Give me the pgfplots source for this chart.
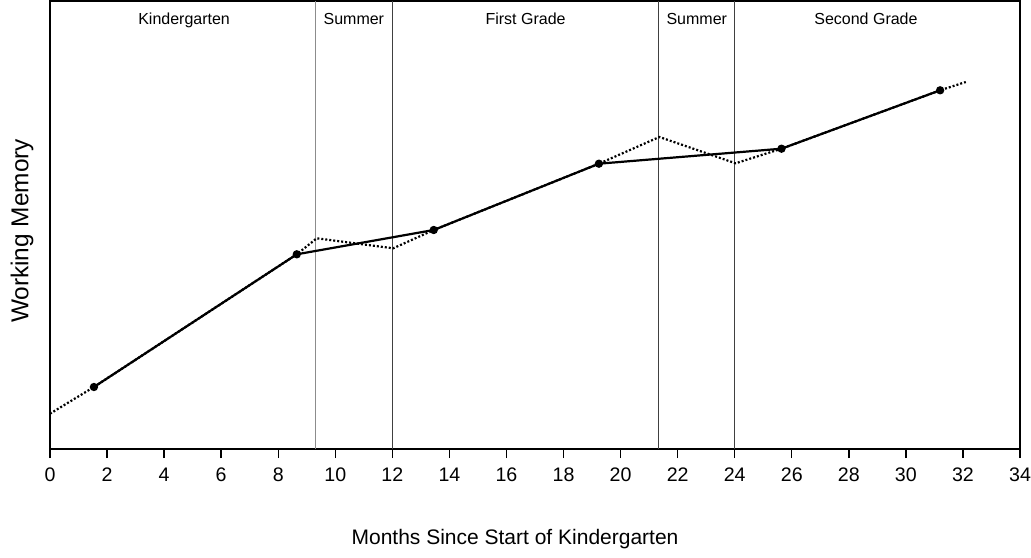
\documentclass[border=0pt]{standalone}
\usepackage{fontspec}
\setmainfont{Liberation Sans}
\usepackage{pgfplots}
\pgfplotsset{compat=1.18}
\begin{document}
\begin{tikzpicture}
\useasboundingbox (-25pt,-54pt) rectangle (490.5pt,224.5pt);
\begin{axis}[
  scale only axis, width=485pt, height=224pt,
  xmin=0, xmax=34, ymin=0, ymax=448,
  xtick={0,2,...,34}, ytick=\empty,
  xtick pos=lower, tick align=outside, major tick length=4.5pt,
  /pgf/number format/assume math mode=true,
  tick label style={font=\fontsize{9.8}{11}\selectfont},
  xticklabel style={yshift=-1.5pt},
  axis line style={line width=0.9pt},
  tick style={line width=0.7pt, black},
  xlabel={Months Since Start of Kindergarten},
  ylabel={Working Memory},
  xlabel style={font=\fontsize{10.5}{12}\selectfont, at={(axis description cs:0.5,0)}, anchor=center, yshift=-45pt, xshift=-10pt},
  ylabel style={font=\fontsize{12.2}{14}\selectfont, at={(axis description cs:0,0.5)}, anchor=center, yshift=14pt, xshift=-3pt},
  clip=false,
]
% season boundaries
\addplot[draw=black!45, line width=0.6pt] coordinates {(9.3,0) (9.3,448)};
\addplot[draw=black!75, line width=0.5pt] coordinates {(12,0) (12,448)};
\addplot[draw=black!75, line width=0.5pt] coordinates {(21.33,0) (21.33,448)};
\addplot[draw=black!75, line width=0.5pt] coordinates {(24,0) (24,448)};
% dotted (observed pattern)
\addplot[black, dash pattern=on 1pt off 1pt, line width=1.1pt] coordinates {
 (0,35.3) (1.54,62) (8.65,194.7) (9.35,210.7) (12.03,200.7) (13.45,219)
 (19.24,285.3) (21.36,312) (24.03,285.7) (25.64,300.3) (31.2,358.7) (32.1,367)};
% solid (model)
\addplot[black, line width=1.1pt, mark=*, mark size=1.5pt] coordinates {
 (1.54,62) (8.65,194.7) (13.45,219) (19.24,285.3) (25.64,300.3) (31.2,358.7)};
% season labels
\tikzset{season/.style={font=\fontsize{8}{10}\selectfont, anchor=base}}
\node[season] at (axis cs:4.7,424) {Kindergarten};
\node[season] at (axis cs:10.65,424) {Summer};
\node[season] at (axis cs:16.67,424) {First Grade};
\node[season] at (axis cs:22.67,424) {Summer};
\node[season] at (axis cs:28.6,424) {Second Grade};
\end{axis}
\end{tikzpicture}
\end{document}
